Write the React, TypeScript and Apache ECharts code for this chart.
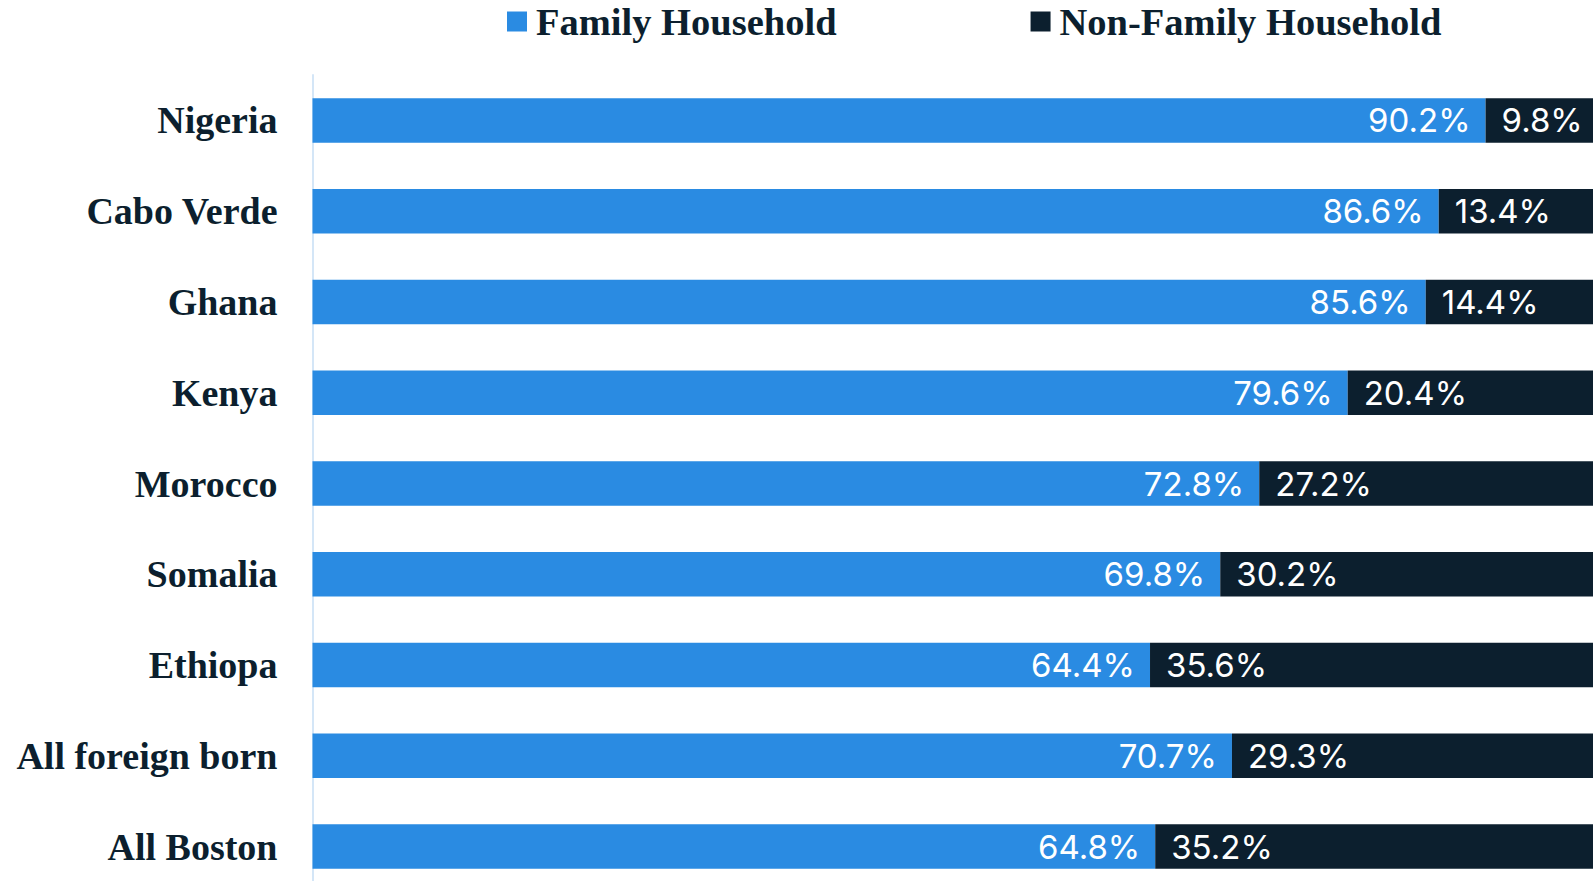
import React, { useEffect, useRef } from "react";
import * as echarts from "echarts";

const categories = [
  "Nigeria",
  "Cabo Verde",
  "Ghana",
  "Kenya",
  "Morocco",
  "Somalia",
  "Ethiopa",
  "All foreign born",
  "All Boston",
];
const familyValues = [90.2, 86.6, 85.6, 79.6, 72.8, 69.8, 64.4, 70.7, 64.8];
const nonFamilyValues = [9.8, 13.4, 14.4, 20.4, 27.2, 30.2, 35.6, 29.3, 35.2];
const seriesNames = ["Family Household", "Non-Family Household"];

const BLUE = "#2a8be2";
const NAVY = "#0c1f2e";

export default function App() {
  const ref = useRef<HTMLDivElement>(null);
  useEffect(() => {
    if (!ref.current) return;
    const chart = echarts.init(ref.current, null, { renderer: "svg" });
    const fmt = (p: any) => Number(p.value).toFixed(1) + "%";
    const labelStyle = {
      show: true,
      color: "#ffffff",
      fontFamily: "Inter, 'Open Sans', sans-serif",
      fontSize: 33,
      formatter: fmt,
    };
    chart.setOption({
      animation: false,
      backgroundColor: "#ffffff",
      legend: {
        left: 502,
        top: -3,
        itemWidth: 20,
        itemHeight: 20,
        itemGap: 194,
        icon: "rect",
        textStyle: {
          fontFamily: "'Liberation Serif', serif",
          fontWeight: "bold",
          fontSize: 38.5,
          color: NAVY,
          padding: [0, 0, 0, 4],
        },
        data: seriesNames,
      },
      grid: { left: 312.5, right: 0, top: 75, bottom: 0 },
      xAxis: {
        type: "value",
        min: 0,
        max: 100,
        show: false,
        splitLine: { show: false },
      },
      yAxis: {
        type: "category",
        inverse: true,
        data: categories,
        axisLine: { show: true, lineStyle: { color: "#d4e6f7", width: 2 } },
        axisTick: { show: false },
        axisLabel: {
          margin: 35,
          fontFamily: "'Liberation Serif', serif",
          fontWeight: "bold",
          fontSize: 38,
          color: NAVY,
        },
      },
      series: [
        {
          name: seriesNames[0],
          type: "bar",
          stack: "total",
          barWidth: "49%",
          data: familyValues,
          itemStyle: { color: BLUE },
          label: { ...labelStyle, position: "insideRight", distance: 15 },
        },
        {
          name: seriesNames[1],
          type: "bar",
          stack: "total",
          barWidth: "49%",
          data: nonFamilyValues,
          itemStyle: { color: NAVY },
          label: { ...labelStyle, position: "insideLeft", distance: 16 },
        },
      ],
    });
    return () => chart.dispose();
  }, []);
  return (
    <div
      style={{
        position: "fixed",
        left: 0,
        top: 0,
        width: 1593,
        height: 881,
        overflow: "hidden",
        background: "#ffffff",
      }}
    >
      <div ref={ref} style={{ width: 1613, height: 892 }} />
    </div>
  );
}
